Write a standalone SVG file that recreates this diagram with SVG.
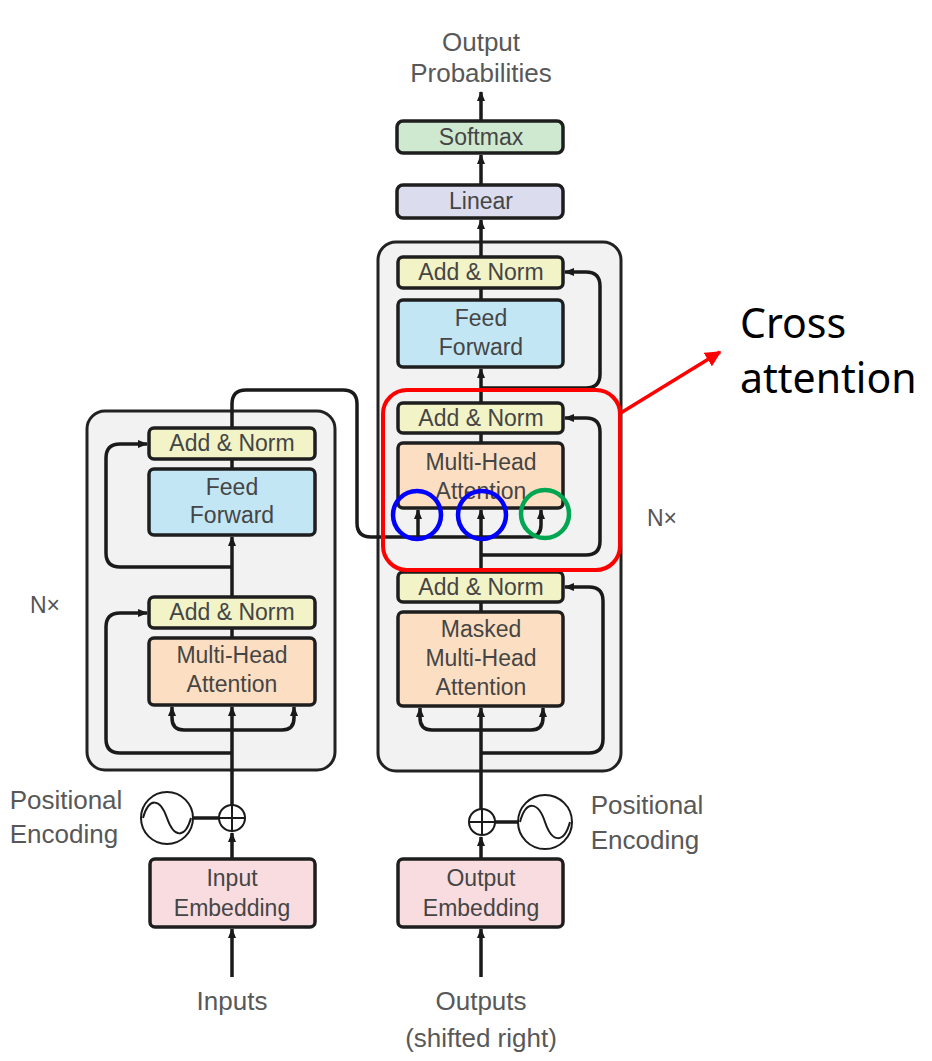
<svg xmlns="http://www.w3.org/2000/svg" width="932" height="1061" viewBox="0 0 932 1061">
<defs>
<marker id="ah" viewBox="0 0 10 10" refX="9" refY="5" markerWidth="10" markerHeight="10" markerUnits="userSpaceOnUse" orient="auto">
<path d="M0,1 L10,5 L0,9 z" fill="#1a1a1a"/>
</marker>
<marker id="rah" viewBox="0 0 10 10" refX="9" refY="5" markerWidth="16" markerHeight="16" markerUnits="userSpaceOnUse" orient="auto">
<path d="M0,0 L10,5 L0,10 z" fill="#ff0000"/>
</marker>
</defs>
<style>
.outer{fill:#f2f2f2;stroke:#222;stroke-width:3}
.box{stroke:#1e1e1e;stroke-width:3.5}
.an{fill:#f2f3c6}
.ff{fill:#c3e6f5}
.mha{fill:#fcdfc2}
.emb{fill:#f8dcdf}
.sm{fill:#cfe9d1}
.lin{fill:#dcdcef}
.t{font-family:"Liberation Sans",Arial,sans-serif;font-size:23px;fill:#454545;text-anchor:middle}
.lbl{font-family:"Liberation Sans",Arial,sans-serif;font-size:26px;fill:#585858;text-anchor:middle}
.c{fill:none;stroke:#1a1a1a;stroke-width:3.5}
.thin{fill:none;stroke:#1a1a1a;stroke-width:2}
.ca{font-family:"Noto Sans","Open Sans",sans-serif;font-size:41px;fill:#000}
</style>
<rect width="932" height="1061" fill="#ffffff"/>

<g id="encoder-stack">
<rect class="outer" x="87" y="411" width="248" height="359" rx="18"/>
</g>
<g id="decoder-stack">
<rect class="outer" x="378" y="242" width="243" height="529" rx="18"/>
</g>

<g id="connectors">
<!-- encoder -->
<path class="c" d="M232,977 V929" marker-end="url(#ah)"/>
<path class="c" d="M232,859 V833" marker-end="url(#ah)"/>
<path class="c" d="M232,805 V707" marker-end="url(#ah)"/>
<path class="c" d="M232,730 H184 Q172,730 172,718 V707" marker-end="url(#ah)"/>
<path class="c" d="M232,730 H282 Q294,730 294,718 V707" marker-end="url(#ah)"/>
<path class="c" d="M232,753 H120 Q106,753 106,739 V627 Q106,613 120,613 H147" marker-end="url(#ah)"/>
<path class="c" d="M232,638 V628"/>
<path class="c" d="M232,598 V537" marker-end="url(#ah)"/>
<path class="c" d="M232,567 H120 Q106,567 106,553 V458 Q106,444 120,444 H147" marker-end="url(#ah)"/>
<path class="c" d="M232,469 V459"/>
<path class="c" d="M232,428 V404 Q232,390 246,390 H343 Q357,390 357,404 V523 Q357,537 371,537 H529 Q541,537 541,525 V510" marker-end="url(#ah)"/>
<path class="c" d="M418,537 V510" marker-end="url(#ah)"/>
<path class="c" d="M481,537 V510" marker-end="url(#ah)"/>
<!-- decoder -->
<path class="c" d="M481,977 V929" marker-end="url(#ah)"/>
<path class="c" d="M481,859 V837" marker-end="url(#ah)"/>
<path class="c" d="M481,809 V708" marker-end="url(#ah)"/>
<path class="c" d="M481,730 H432 Q420,730 420,718 V708" marker-end="url(#ah)"/>
<path class="c" d="M481,730 H531 Q543,730 543,718 V708" marker-end="url(#ah)"/>
<path class="c" d="M481,753 H589 Q603,753 603,739 V601 Q603,587 589,587 H565" marker-end="url(#ah)"/>
<path class="c" d="M481,612 V602"/>
<path class="c" d="M481,572 V537"/>
<path class="c" d="M481,555 H586 Q600,555 600,541 V432 Q600,418 586,418 H565" marker-end="url(#ah)"/>
<path class="c" d="M481,443 V433"/>
<path class="c" d="M481,403 V369" marker-end="url(#ah)"/>
<path class="c" d="M481,388 H586 Q600,388 600,374 V286 Q600,272 586,272 H565" marker-end="url(#ah)"/>
<path class="c" d="M481,300 V288"/>
<path class="c" d="M481,257 V220" marker-end="url(#ah)"/>
<path class="c" d="M481,185 V155" marker-end="url(#ah)"/>
<path class="c" d="M481,121 V92" marker-end="url(#ah)"/>
<!-- positional encoding links -->
<path class="c" d="M193,818 H219"/>
<path class="c" d="M495,822 H518"/>
<!-- cross attention pointer -->
<path d="M619,414 L720,352" fill="none" stroke="#ff0000" stroke-width="3.5" marker-end="url(#rah)"/>
</g>

<g id="enc-addnorm2">
<rect class="box an" x="149" y="428" width="166" height="31" rx="5"/>
<text class="t" x="232" y="451">Add &amp; Norm</text>
</g>
<g id="enc-ff">
<rect class="box ff" x="149" y="469" width="166" height="66" rx="5"/>
<text class="t" x="232" y="495">Feed</text>
<text class="t" x="232" y="523">Forward</text>
</g>
<g id="enc-addnorm1">
<rect class="box an" x="149" y="597" width="166" height="31" rx="5"/>
<text class="t" x="232" y="620">Add &amp; Norm</text>
</g>
<g id="enc-mha">
<rect class="box mha" x="149" y="638" width="166" height="67" rx="5"/>
<text class="t" x="232" y="663">Multi-Head</text>
<text class="t" x="232" y="692">Attention</text>
</g>
<g id="enc-nx">
<text class="t" x="45" y="613" style="fill:#555">N×</text>
</g>
<g id="input-embedding">
<rect class="box emb" x="150" y="859" width="165" height="68" rx="5"/>
<text class="t" x="232" y="886">Input</text>
<text class="t" x="232" y="916">Embedding</text>
</g>
<g id="enc-posenc">
<circle cx="167" cy="818" r="26" fill="#fff" stroke="#1a1a1a" stroke-width="2"/>
<path class="thin" d="M143,818 C149,797 160,798 167,818 C174,838 185,839 191,818"/>
<circle cx="232" cy="818" r="13" fill="#fff" stroke="#1a1a1a" stroke-width="2"/>
<path class="thin" d="M219,818 H245 M232,805 V831"/>
<text class="lbl" x="66" y="809">Positional</text>
<text class="lbl" x="64" y="843">Encoding</text>
</g>
<g id="inputs-label">
<text class="lbl" x="232" y="1010">Inputs</text>
</g>

<g id="dec-addnorm3">
<rect class="box an" x="398" y="257" width="165" height="31" rx="5"/>
<text class="t" x="481" y="280">Add &amp; Norm</text>
</g>
<g id="dec-ff">
<rect class="box ff" x="398" y="300" width="165" height="67" rx="5"/>
<text class="t" x="481" y="326">Feed</text>
<text class="t" x="481" y="355">Forward</text>
</g>
<g id="dec-addnorm2">
<rect class="box an" x="398" y="403" width="165" height="30" rx="5"/>
<text class="t" x="481" y="426">Add &amp; Norm</text>
</g>
<g id="dec-mha">
<rect class="box mha" x="398" y="443" width="165" height="65" rx="5"/>
<text class="t" x="481" y="470">Multi-Head</text>
<text class="t" x="481" y="499">Attention</text>
</g>
<g id="dec-addnorm1">
<rect class="box an" x="398" y="572" width="165" height="30" rx="5"/>
<text class="t" x="481" y="595">Add &amp; Norm</text>
</g>
<g id="dec-masked-mha">
<rect class="box mha" x="398" y="612" width="165" height="94" rx="5"/>
<text class="t" x="481" y="637">Masked</text>
<text class="t" x="481" y="666">Multi-Head</text>
<text class="t" x="481" y="695">Attention</text>
</g>
<g id="dec-nx">
<text class="t" x="662" y="526" style="fill:#555">N×</text>
</g>
<g id="output-embedding">
<rect class="box emb" x="398" y="859" width="165" height="68" rx="5"/>
<text class="t" x="481" y="886">Output</text>
<text class="t" x="481" y="916">Embedding</text>
</g>
<g id="dec-posenc">
<circle cx="545" cy="822" r="27" fill="#fff" stroke="#1a1a1a" stroke-width="2"/>
<path class="thin" d="M520,822 C526,800 538,801 545,822 C552,843 564,844 570,822"/>
<circle cx="482" cy="822" r="13" fill="#fff" stroke="#1a1a1a" stroke-width="2"/>
<path class="thin" d="M469,822 H495 M482,809 V835"/>
<text class="lbl" x="647" y="814">Positional</text>
<text class="lbl" x="645" y="849">Encoding</text>
</g>
<g id="outputs-label">
<text class="lbl" x="481" y="1010">Outputs</text>
<text class="lbl" x="481" y="1047">(shifted right)</text>
</g>
<g id="linear">
<rect class="box lin" x="397" y="185" width="166" height="33" rx="6"/>
<text class="t" x="481" y="209">Linear</text>
</g>
<g id="softmax">
<rect class="box sm" x="397" y="121" width="166" height="32" rx="6"/>
<text class="t" x="481" y="145">Softmax</text>
</g>
<g id="output-probs">
<text class="lbl" x="481" y="51">Output</text>
<text class="lbl" x="481" y="82">Probabilities</text>
</g>

<g id="cross-attention-highlight">
<rect x="383" y="390" width="237" height="180" rx="24" fill="none" stroke="#ff0000" stroke-width="4"/>
<circle cx="417" cy="515" r="24" fill="none" stroke="#0000ff" stroke-width="4.5"/>
<circle cx="482" cy="515" r="24" fill="none" stroke="#0000ff" stroke-width="4.5"/>
<circle cx="545" cy="514" r="24" fill="none" stroke="#00a651" stroke-width="4.5"/>
</g>
<g id="cross-attention-label">
<text class="ca" x="740" y="338">Cross</text>
<text class="ca" x="740" y="393">attention</text>
</g>
</svg>
